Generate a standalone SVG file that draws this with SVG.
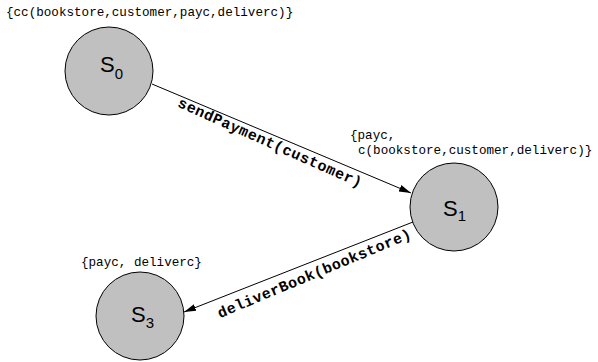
<svg xmlns="http://www.w3.org/2000/svg" width="598" height="362" viewBox="0 0 598 362">
<style>
.state{fill:#c0c0c0;stroke:#000;stroke-width:1}
.s{font-family:"Liberation Sans",Arial,sans-serif;font-size:22px;fill:#000}
.sub{font-size:15px}
.ann{font-family:"Liberation Mono","Courier New",monospace;font-size:12.6px;fill:#000}
.lbl{font-family:"Liberation Mono","Courier New",monospace;font-size:15px;font-weight:bold;fill:#000}
.edge{stroke:#000;stroke-width:1;fill:none;marker-end:url(#arr)}
</style>
<defs>
<marker id="arr" viewBox="0 0 12 10" refX="12" refY="5" markerWidth="12" markerHeight="10" markerUnits="userSpaceOnUse" orient="auto">
<path d="M0,1.5 L12,5 L0,8.5 z" fill="#000"/>
</marker>
</defs>
<g id="connectors">
<g id="e1">
<line class="edge" x1="152" y1="84" x2="411" y2="193"/>
<text class="lbl" transform="translate(268,147) rotate(24)" text-anchor="middle" textLength="200" lengthAdjust="spacing">sendPayment(customer)</text>
</g>
<g id="e2">
<line class="edge" x1="413" y1="222" x2="184" y2="312"/>
<text class="lbl" transform="translate(316,278) rotate(-22.7)" text-anchor="middle" textLength="208" lengthAdjust="spacing">deliverBook(bookstore)</text>
</g>
</g>
<g id="S0">
<circle class="state" cx="109" cy="71" r="44"/>
<text class="s" x="100" y="72">S<tspan class="sub" dy="7">0</tspan></text>
<text class="ann" x="6" y="16">{cc(bookstore,customer,payc,deliverc)}</text>
</g>
<g id="S1">
<circle class="state" cx="454" cy="207" r="44"/>
<text class="s" x="443" y="216">S<tspan class="sub" dy="5">1</tspan></text>
<text class="ann" x="350" y="139">{payc,</text>
<text class="ann" x="358" y="154">c(bookstore,customer,deliverc)}</text>
</g>
<g id="S3">
<circle class="state" cx="140" cy="316" r="44"/>
<text class="s" x="131" y="322">S<tspan class="sub" dy="6">3</tspan></text>
<text class="ann" x="81" y="266">{payc, deliverc}</text>
</g>
</svg>
